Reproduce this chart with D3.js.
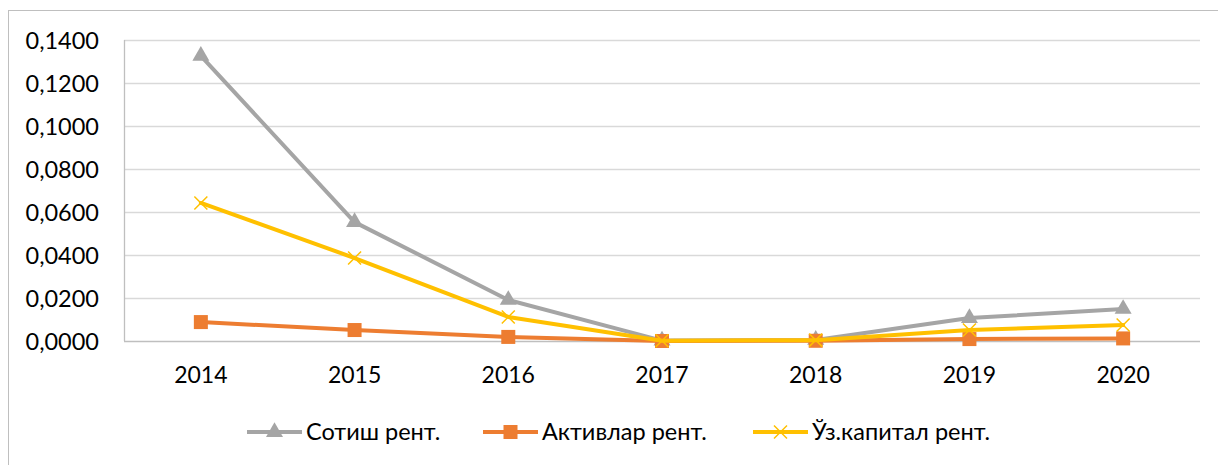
<!DOCTYPE html>
<html>
<head>
	<meta charset="utf-8">
	<title>рентабеллик</title>
	<script src="https://d3js.org/d3.v7.min.js"></script>
	<style>
		body { margin: 0; background: #fff; }
		text { font-family: Lato, 'Noto Sans', sans-serif; fill: #000; }
	</style>
</head>
<body>
	<div class="chart"></div>

	<script type="text/javascript">
		const years = ['2014', '2015', '2016', '2017', '2018', '2019', '2020']
		const sotish = [0.1326, 0.0553, 0.0191, 0.0002, 0.0005, 0.0107, 0.0149]
		const aktivlar = [0.0088, 0.0051, 0.0019, 0.0000, 0.0001, 0.0009, 0.0012]
		const kapital = [0.0642, 0.0386, 0.0112, 0.0001, 0.0004, 0.0051, 0.0074]
		const yTicks = [0, 0.02, 0.04, 0.06, 0.08, 0.10, 0.12, 0.14]
		const seriesNames = ['Сотиш рент.', 'Активлар рент.', 'Ўз.капитал рент.']

		const width = 1218
		const height = 465
		const margin = { top: 40, right: 18, bottom: 124, left: 124 }

		const svg = d3.select('.chart').append('svg')
			.attr('width', width)
			.attr('height', height)

		// рамка
		svg.append('rect')
			.attr('x', 8.5).attr('y', 10.5)
			.attr('width', 1230).attr('height', 470)
			.attr('fill', 'none')
			.attr('stroke', '#bfbfbf')

		const xScale = d3.scaleBand()
			.domain(years)
			.range([margin.left, width - margin.right])

		const yScale = d3.scaleLinear()
			.domain([0, 0.14])
			.range([height - margin.bottom, margin.top])

		// сетка
		svg.append('g')
			.selectAll('line')
			.data(yTicks)
			.join('line')
			.attr('x1', margin.left)
			.attr('x2', width - margin.right)
			.attr('y1', d => Math.round(yScale(d)) + 0.5)
			.attr('y2', d => Math.round(yScale(d)) + 0.5)
			.attr('stroke', d => d === 0 ? '#bfbfbf' : '#d9d9d9')
			.attr('stroke-width', 1.3)

		svg.append('line')
			.attr('x1', margin.left + 0.5).attr('x2', margin.left + 0.5)
			.attr('y1', yScale(0.14)).attr('y2', yScale(0))
			.attr('stroke', '#bfbfbf')
			.attr('stroke-width', 1.3)

		const yAxis = d3.axisLeft(yScale)
			.tickValues(yTicks)
			.tickSize(0)
			.tickPadding(25)
			.tickFormat(d => d3.format('.4f')(d).replace('.', ','))

		svg.append('g')
			.attr('transform', `translate(${margin.left},0)`)
			.call(yAxis)
			.call(g => g.select('.domain').remove())
			.selectAll('text')
			.attr('font-size', 23.5)
			.attr('dy', '0.36em')

		const xAxis = d3.axisBottom(xScale).tickSize(0).tickPadding(26)

		svg.append('g')
			.attr('transform', `translate(0,${height - margin.bottom})`)
			.call(xAxis)
			.call(g => g.select('.domain').remove())
			.selectAll('text')
			.attr('font-size', 23)
			.attr('dy', '0.71em')

		const cx = d => xScale(d) + xScale.bandwidth() / 2

		const series = [
			{ name: seriesNames[0], values: sotish, color: '#a5a5a5', marker: 'triangle' },
			{ name: seriesNames[1], values: aktivlar, color: '#ed7d31', marker: 'square' },
			{ name: seriesNames[2], values: kapital, color: '#ffc000', marker: 'x' }
		]

		const line = d3.line()
			.x((d, i) => cx(years[i]))
			.y(d => yScale(d))

		function drawMarker(g, type, color, x, y) {
			if (type === 'triangle') {
				g.append('path')
					.attr('d', d3.symbol(d3.symbolTriangle, 125)())
					.attr('transform', `translate(${x},${y})`)
					.attr('fill', color)
			} else if (type === 'square') {
				g.append('rect')
					.attr('x', x - 7).attr('y', y - 7)
					.attr('width', 14).attr('height', 14)
					.attr('fill', color)
			} else {
				g.append('path')
					.attr('d', `M${x - 6.5},${y - 6.5}L${x + 6.5},${y + 6.5}M${x - 6.5},${y + 6.5}L${x + 6.5},${y - 6.5}`)
					.attr('stroke', color)
					.attr('stroke-width', 1.5)
			}
		}

		series.forEach(s => {
			const g = svg.append('g')
			g.append('path')
				.attr('d', line(s.values))
				.attr('fill', 'none')
				.attr('stroke', s.color)
				.attr('stroke-width', 4)
				.attr('stroke-linejoin', 'round')
				.attr('stroke-linecap', 'round')
			s.values.forEach((v, i) => drawMarker(g, s.marker, s.color, cx(years[i]), yScale(v)))
		})

		// легенда
		const legendX = [247, 483, 753]
		const legendY = 432
		series.forEach((s, i) => {
			const g = svg.append('g')
			g.append('line')
				.attr('x1', legendX[i]).attr('x2', legendX[i] + 55)
				.attr('y1', legendY).attr('y2', legendY)
				.attr('stroke', s.color)
				.attr('stroke-width', 4)
			drawMarker(g, s.marker, s.color, legendX[i] + 27.5, legendY)
			g.append('text')
				.attr('x', legendX[i] + 59)
				.attr('y', legendY)
				.attr('dy', '0.36em')
				.attr('font-size', 23.5)
				.text(s.name)
		})
	</script>
</body>
</html>
